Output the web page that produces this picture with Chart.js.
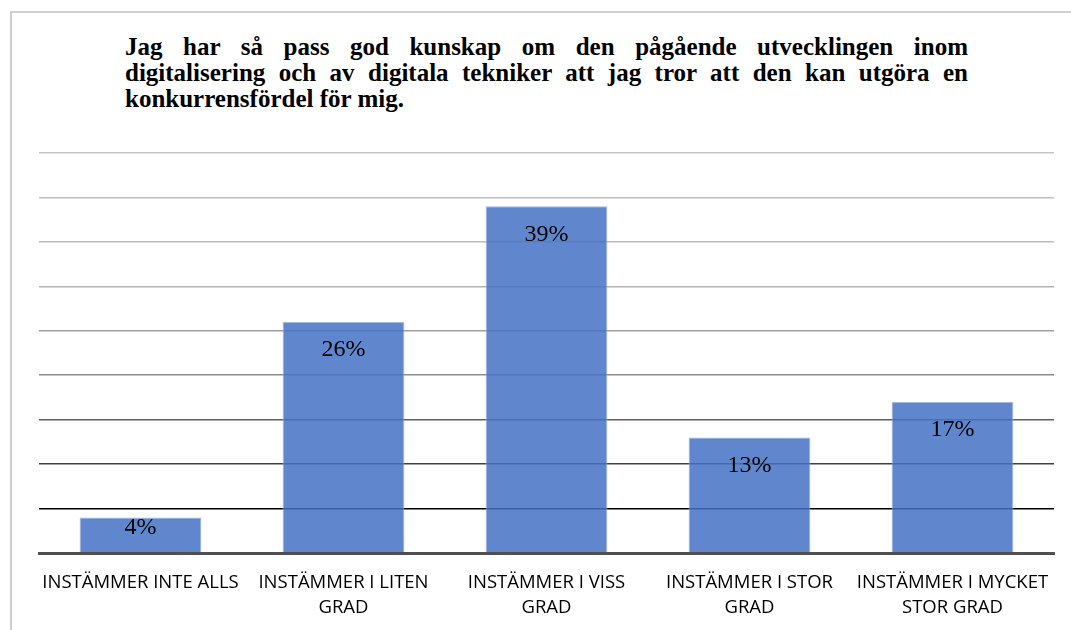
<!DOCTYPE html>
<html>
<head>
<meta charset="utf-8">
<script src="https://cdn.jsdelivr.net/npm/chart.js@4.4.0/dist/chart.umd.min.js"></script>
<style>
  body { margin: 0; background: #fff; width: 1071px; height: 630px; overflow: hidden; position: relative; }
  #frame { position: absolute; left: 10px; top: 11px; right: 0; bottom: 0; border-left: 2px solid #cfcfcf; border-top: 2px solid #cfcfcf; }
  #title { position: absolute; left: 125px; top: 34px; width: 843px; font: bold 25px 'Liberation Serif', 'Times New Roman', serif; line-height: 26px; color: #000; }
  #title div { text-align: justify; text-align-last: justify; white-space: nowrap; }
  #title div.last { text-align-last: left; }
  #c { position: absolute; left: 0; top: 0; }
</style>
</head>
<body>
<div id="frame"></div>
<div id="title">
  <div>Jag har så pass god kunskap om den pågående utvecklingen inom</div>
  <div>digitalisering och av digitala tekniker att jag tror att den kan utgöra en</div>
  <div class="last">konkurrensfördel för mig.</div>
</div>
<canvas id="c" width="1071" height="630"></canvas>
<script>
const categories = [
  ['INSTÄMMER INTE ALLS'],
  ['INSTÄMMER I LITEN', 'GRAD'],
  ['INSTÄMMER I VISS', 'GRAD'],
  ['INSTÄMMER I STOR', 'GRAD'],
  ['INSTÄMMER I MYCKET', 'STOR GRAD']
];
const shares = [4, 26, 39, 13, 17];
const valueLabels = ['4%', '26%', '39%', '13%', '17%'];

// gridline colours, darker toward the bottom (index = tick index from 0)
const gridColors = ['rgba(0,0,0,0)', '#000000', '#404040', '#606060', '#8c8c8c', '#a0a0a0', '#b4b4b4', '#bcbcbc', '#c0c0c0', '#c4c4c4'];

const barLabels = {
  id: 'barLabels',
  afterDatasetsDraw(chart) {
    const ctx = chart.ctx;
    const meta = chart.getDatasetMeta(0);
    ctx.save();
    ctx.font = '24px "Liberation Serif", "Times New Roman", serif';
    ctx.fillStyle = '#000';
    ctx.textAlign = 'center';
    ctx.textBaseline = 'middle';
    meta.data.forEach((bar, i) => {
      const mid = (bar.y + bar.base) / 2;
      const y = Math.min(bar.y + 28, mid - 7);
      ctx.fillText(valueLabels[i], bar.x, y);
    });
    ctx.restore();
  }
};

new Chart(document.getElementById('c'), {
  type: 'bar',
  data: {
    labels: categories,
    datasets: [{
      data: shares,
      backgroundColor: 'rgba(68,114,196,0.85)',
      borderColor: 'rgba(150,180,230,0.9)',
      borderWidth: 1,
      barPercentage: 0.6,
      categoryPercentage: 1
    }]
  },
  options: {
    responsive: false,
    animation: false,
    layout: { padding: { left: 39, right: 17, top: 153, bottom: 0 } },
    plugins: { legend: { display: false }, tooltip: { enabled: false }, title: { display: false } },
    scales: {
      x: {
        grid: { display: false, drawTicks: false },
        border: { color: '#505050', width: 3, z: 1 },
        ticks: {
          color: '#000',
          font: { family: '"Open Sans", sans-serif', size: 18.5, lineHeight: 1.35 },
          padding: 17,
          maxRotation: 0,
          autoSkip: false
        },
        afterFit: (scale) => { scale.height = 77; }
      },
      y: {
        min: 0,
        max: 45,
        ticks: { stepSize: 5, display: false },
        border: { display: false },
        grid: {
          drawTicks: false,
          lineWidth: 1.5,
          color: (c) => gridColors[c.index] || '#c4c4c4'
        }
      }
    }
  },
  plugins: [barLabels]
});
</script>
</body>
</html>
